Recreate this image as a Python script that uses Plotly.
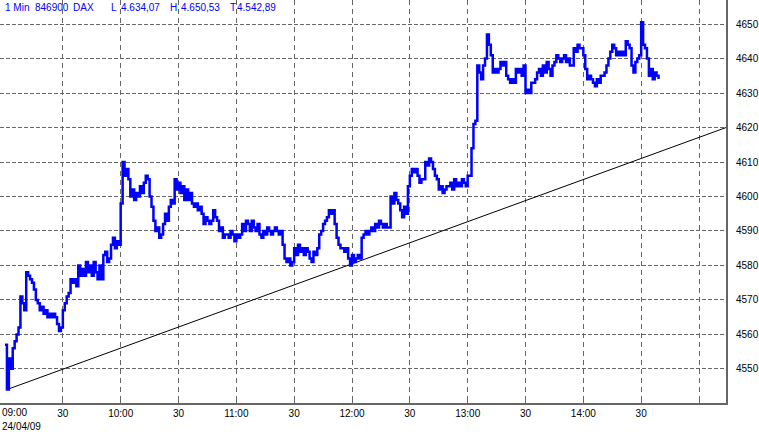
import pandas as pd
import plotly.graph_objects as go

# 1-minute closing values, DAX 24/04/09 starting 09:00
close = [
    4557, 4544, 4553, 4550, 4556,
    4558, 4560, 4562, 4571, 4569,
    4567, 4578, 4577, 4576, 4575,
    4573, 4570, 4569, 4567, 4568,
    4566, 4567, 4565, 4566, 4565,
    4566, 4565, 4563, 4561, 4562,
    4567, 4569, 4571, 4572, 4576,
    4575, 4576, 4574, 4580, 4577,
    4579, 4577, 4581, 4578, 4580,
    4577, 4581, 4578, 4576, 4580,
    4576, 4583, 4584, 4581, 4582,
    4586, 4588, 4585, 4587, 4586,
    4598, 4610, 4606, 4608, 4605,
    4600, 4602, 4599, 4601, 4600,
    4603, 4601, 4604, 4606, 4605,
    4600, 4597, 4593, 4590, 4591,
    4588, 4589, 4592, 4595, 4593,
    4597, 4599, 4598, 4605, 4602,
    4604, 4601, 4603, 4599, 4602,
    4599, 4601, 4598, 4597, 4598,
    4596, 4597, 4595, 4592, 4594,
    4593, 4592, 4593, 4596, 4594,
    4593, 4590, 4591, 4588, 4589,
    4589, 4588, 4590, 4589, 4587,
    4589, 4588, 4589, 4592, 4590,
    4593, 4592, 4590, 4593, 4591,
    4590, 4592, 4589, 4588, 4590,
    4589, 4591, 4590, 4589, 4590,
    4591, 4590, 4589, 4590, 4586,
    4582, 4581, 4582, 4580, 4581,
    4585, 4583, 4586, 4584, 4585,
    4583, 4585, 4584, 4582, 4581,
    4584, 4583, 4585, 4589, 4590,
    4592, 4593, 4594, 4596, 4595,
    4596, 4592, 4588, 4586, 4585,
    4585, 4584, 4585, 4582, 4580,
    4583, 4581, 4582, 4583, 4582,
    4588, 4589, 4590, 4589, 4590,
    4591, 4590, 4592, 4591, 4593,
    4592, 4591, 4592, 4591, 4591,
    4600, 4598, 4601, 4599, 4598,
    4596, 4594, 4597, 4595, 4603,
    4606, 4608, 4607, 4608, 4606,
    4604, 4605, 4605, 4610, 4609,
    4611, 4610, 4608, 4606, 4605,
    4602, 4603, 4601, 4602, 4603,
    4603, 4604, 4602, 4605, 4603,
    4604, 4603, 4605, 4604, 4603,
    4606, 4606, 4614, 4621, 4622,
    4638, 4636, 4634, 4638, 4640,
    4647, 4644, 4641, 4636, 4637,
    4636, 4637, 4639, 4638, 4639,
    4635, 4634, 4633, 4634, 4633,
    4637, 4636, 4637, 4635, 4638,
    4630, 4631, 4630, 4633, 4633,
    4634, 4636, 4637, 4635, 4638,
    4636, 4639, 4637, 4635, 4638,
    4639, 4641, 4640, 4639, 4640,
    4641, 4639, 4640, 4638, 4638,
    4643, 4642, 4644, 4643, 4643,
    4641, 4637, 4634, 4635, 4634,
    4633, 4632, 4634, 4633, 4635,
    4635, 4636, 4638, 4640, 4642,
    4644, 4643, 4641, 4642, 4641,
    4642, 4641, 4645, 4644, 4643,
    4638, 4636, 4639, 4640, 4641,
    4650.53, 4644, 4643, 4640, 4635,
    4637, 4634, 4636, 4635, 4634.07,
]
start_time = "2009-04-24 09:00"

# Trend line end points
trend_times = ["2009-04-24 09:01", "2009-04-24 15:14"]
trend_values = [4544.0, 4620.0]

# Axis ticks
x_tickvals = ["2009-04-24 09:30", "2009-04-24 10:00", "2009-04-24 10:30",
              "2009-04-24 11:00", "2009-04-24 11:30", "2009-04-24 12:00",
              "2009-04-24 12:30", "2009-04-24 13:00", "2009-04-24 13:30",
              "2009-04-24 14:00", "2009-04-24 14:30", "2009-04-24 15:00"]
x_ticktext = ["30", "10:00", "30", "11:00", "30", "12:00",
              "30", "13:00", "30", "14:00", "30", ""]
y_tickvals = [4550, 4560, 4570, 4580, 4590, 4600, 4610, 4620, 4630, 4640, 4650]

header_items = ["1 Min", "846900", "DAX", "L", "4.634,07", "H", "4.650,53", "T", "4.542,89"]
header_px = [3, 33, 71, 109, 119, 168, 179, 229, 236]

times = pd.date_range(start_time, periods=len(close), freq="min")

fig = go.Figure()
fig.add_trace(go.Scatter(x=pd.to_datetime(trend_times), y=trend_values, mode="lines",
                         line=dict(color="black", width=1), hoverinfo="skip"))
fig.add_trace(go.Scatter(x=times, y=close, mode="lines",
                         line=dict(color="#0000FF", width=2.5, shape="hv")))

PLOT_W = 728
PLOT_H = 403
font = dict(family="Liberation Sans, Arial", size=10, color="black")

annotations = []
for txt, px in zip(header_items, header_px):
    annotations.append(dict(text=txt, x=px / PLOT_W, y=1 - 7 / PLOT_H, xref="paper", yref="paper",
                            xanchor="left", yanchor="middle", showarrow=False,
                            font=dict(family="Liberation Sans, Arial", size=10, color="#0000FF")))
annotations.append(dict(text="09:00", x=0, y=0, xref="paper", yref="paper", xanchor="left",
                        yanchor="top", yshift=-2, showarrow=False, font=font))
annotations.append(dict(text="24/04/09", x=0, y=0, xref="paper", yref="paper", xanchor="left",
                        yanchor="top", yshift=-16, showarrow=False, font=font))

fig.update_layout(
    width=759, height=432,
    margin=dict(l=0, r=31, t=0, b=29),
    paper_bgcolor="white", plot_bgcolor="white",
    showlegend=False,
    annotations=annotations,
    xaxis=dict(
        type="date",
        range=["2009-04-24 08:57:24", "2009-04-24 15:14:00"],
        tickmode="array", tickvals=x_tickvals, ticktext=x_ticktext,
        ticks="inside", ticklen=5, tickcolor="#666666", tickwidth=1,
        showgrid=True, gridcolor="#666666", gridwidth=1, griddash="5px,4px",
        showline=True, linecolor="#666666", linewidth=2,
        zeroline=False, tickfont=font, tickangle=0,
    ),
    yaxis=dict(
        side="right",
        range=[4540.1, 4657.0],
        tickmode="array", tickvals=y_tickvals,
        ticks="", showgrid=True, gridcolor="#666666", gridwidth=1, griddash="4px,2px",
        showline=True, linecolor="#666666", linewidth=2,
        zeroline=False, tickfont=font, ticklabelstandoff=6,
    ),
)

fig.write_html("out.html", config={"displayModeBar": False},
               post_script="document.body.style.margin='0';")
